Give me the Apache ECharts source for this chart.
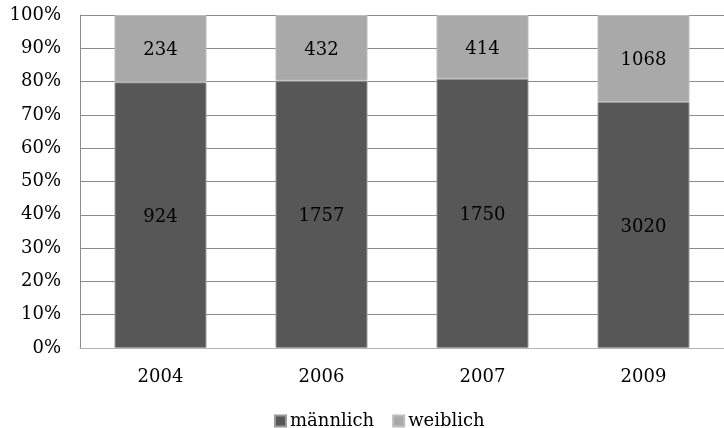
<!DOCTYPE html>
<html>
<head>
<meta charset="utf-8">
<script src="https://cdn.jsdelivr.net/npm/echarts@6/dist/echarts.min.js"></script>
<style>
  html, body { margin: 0; padding: 0; background: #fff; }
  #chart { width: 724px; height: 428px; }
</style>
</head>
<body>
<div id="chart"></div>
<script>
// Years shown on the category axis
var years = ['2004', '2006', '2007', '2009'];
// Absolute counts per group
var maleCounts = [924, 1757, 1750, 3020];
var femaleCounts = [234, 432, 414, 1068];
// Percentage ticks on the value axis
var percentTicks = [0, 10, 20, 30, 40, 50, 60, 70, 80, 90, 100];

var FONT = 'DejaVu Serif';

// Each column is scaled to 100 %; labels keep the raw counts.
function shares(part) {
  return part.map(function (v, i) {
    return { value: v / (maleCounts[i] + femaleCounts[i]) * 100, count: v };
  });
}

var chart = echarts.init(document.getElementById('chart'));

var labelStyle = {
  show: true,
  position: 'inside',
  offset: [0, 2],
  color: '#000',
  fontFamily: FONT,
  fontSize: 18,
  formatter: function (p) { return String(p.data.count); }
};

chart.setOption({
  animation: false,
  backgroundColor: '#fff',
  grid: { left: 80, top: 15, width: 650, height: 333, containLabel: false },
  legend: {
    top: 407,
    left: 269,
    itemWidth: 11,
    itemHeight: 11,
    itemGap: 18,
    icon: 'rect',
    textStyle: { fontFamily: FONT, fontSize: 18, color: '#000', padding: [0, 0, 0, -1] },
    data: ['männlich', 'weiblich']
  },
  xAxis: {
    type: 'category',
    data: years,
    axisLine: { lineStyle: { color: '#b3b3b3', width: 1 } },
    axisTick: { show: false },
    axisLabel: { fontFamily: FONT, fontSize: 18, color: '#000', margin: 20 }
  },
  yAxis: {
    type: 'value',
    min: 0,
    max: 100,
    interval: 10,
    axisLine: { show: true, lineStyle: { color: '#8c8c8c' } },
    axisTick: { show: false },
    splitLine: { lineStyle: { color: '#8c8c8c', width: 1 } },
    axisLabel: {
      fontFamily: FONT,
      fontSize: 18,
      color: '#000',
      margin: 19,
      formatter: function (v) { return percentTicks.indexOf(v) >= 0 ? v + '%' : ''; }
    }
  },
  series: [
    {
      name: 'männlich',
      type: 'bar',
      stack: 'total',
      barWidth: 92,
      data: shares(maleCounts),
      itemStyle: { color: '#575757', borderColor: '#9a9a9a', borderWidth: 1 },
      label: labelStyle
    },
    {
      name: 'weiblich',
      type: 'bar',
      stack: 'total',
      barWidth: 92,
      data: shares(femaleCounts),
      itemStyle: { color: '#a9a9a9', borderColor: '#bdbdbd', borderWidth: 1 },
      label: labelStyle
    }
  ]
});
</script>
</body>
</html>
